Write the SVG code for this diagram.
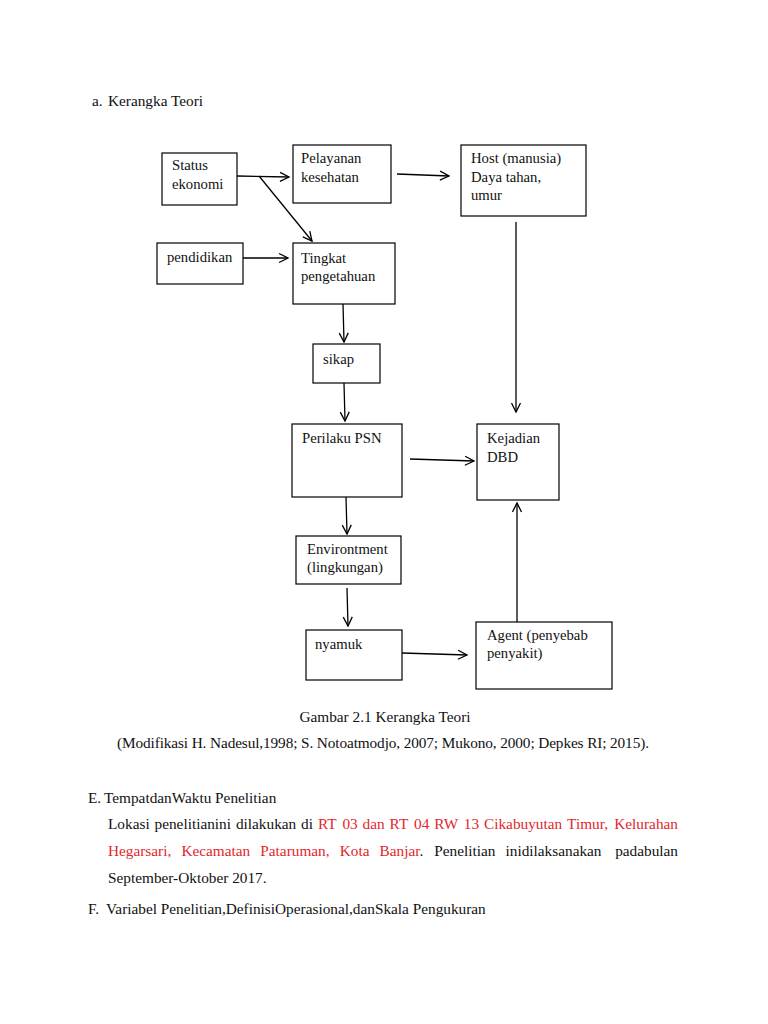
<svg xmlns="http://www.w3.org/2000/svg" width="768" height="1024" viewBox="0 0 768 1024">
<defs>
<marker id="arr" markerUnits="userSpaceOnUse" markerWidth="12" markerHeight="12" refX="10" refY="6" orient="auto">
<path d="M1,1.5 L10,6 L1,10.5" fill="none" stroke="#000" stroke-width="1.3"/>
</marker>
<style>
.box{fill:#fff;stroke:#000;stroke-width:1.2}
.t{font-family:"Liberation Serif","Times New Roman",serif;font-size:14.7px;fill:#111}
.p{font-family:"Liberation Serif","Times New Roman",serif;font-size:15.3px;fill:#111}
.r{fill:#e3262c}
.c{fill:none;stroke:#000;stroke-width:1.3;marker-end:url(#arr)}
</style>
</defs>
<rect width="768" height="1024" fill="#fff"/>
<text class="p" x="92" y="106">a.</text>
<text class="p" x="108" y="106">Kerangka Teori</text>

<g id="connectors">
<line class="c" x1="237" y1="176" x2="289" y2="177"/>
<line class="c" x1="259" y1="176" x2="312" y2="241"/>
<line class="c" x1="397" y1="174" x2="449" y2="176"/>
<line class="c" x1="243" y1="258" x2="288" y2="258"/>
<line class="c" x1="516" y1="222" x2="516" y2="412"/>
<line class="c" x1="343" y1="304" x2="344" y2="342"/>
<line class="c" x1="344" y1="383" x2="345" y2="421"/>
<line class="c" x1="410" y1="459" x2="474" y2="461"/>
<line class="c" x1="346" y1="497" x2="347" y2="534"/>
<line class="c" x1="347" y1="588" x2="348" y2="626"/>
<line class="c" x1="402" y1="653" x2="467" y2="655"/>
<line class="c" x1="517" y1="622" x2="517" y2="503"/>
</g>

<g id="status"><rect class="box" x="162" y="153" width="75" height="52"/><text class="t" x="172" y="170">Status</text><text class="t" x="172" y="189">ekonomi</text></g>
<g id="pelayanan"><rect class="box" x="293" y="145" width="98" height="58"/><text class="t" x="301" y="163">Pelayanan</text><text class="t" x="301" y="182">kesehatan</text></g>
<g id="host"><rect class="box" x="461" y="145" width="125" height="71"/><text class="t" x="471" y="163">Host (manusia)</text><text class="t" x="471" y="182">Daya tahan,</text><text class="t" x="471" y="200">umur</text></g>
<g id="pendidikan"><rect class="box" x="157" y="243" width="86" height="41"/><text class="t" x="167" y="262">pendidikan</text></g>
<g id="tingkat"><rect class="box" x="293" y="243" width="102" height="61"/><text class="t" x="301" y="263">Tingkat</text><text class="t" x="301" y="281">pengetahuan</text></g>
<g id="sikap"><rect class="box" x="313" y="344" width="67" height="39"/><text class="t" x="323" y="364">sikap</text></g>
<g id="perilaku"><rect class="box" x="292" y="424" width="110" height="73"/><text class="t" x="302" y="443">Perilaku PSN</text></g>
<g id="kejadian"><rect class="box" x="477" y="424" width="82" height="76"/><text class="t" x="487" y="443">Kejadian</text><text class="t" x="487" y="462">DBD</text></g>
<g id="environment"><rect class="box" x="296" y="536" width="105" height="48"/><text class="t" x="307" y="554">Environtment</text><text class="t" x="307" y="572">(lingkungan)</text></g>
<g id="nyamuk"><rect class="box" x="306" y="630" width="96" height="50"/><text class="t" x="315" y="649">nyamuk</text></g>
<g id="agent"><rect class="box" x="476" y="622" width="136" height="67"/><text class="t" x="487" y="640">Agent (penyebab</text><text class="t" x="487" y="658">penyakit)</text></g>

<text class="p" x="385" y="722" text-anchor="middle">Gambar 2.1 Kerangka Teori</text>
<text class="p" x="117" y="748" textLength="532" lengthAdjust="spacing">(Modifikasi H. Nadesul,1998; S. Notoatmodjo, 2007; Mukono, 2000; Depkes RI; 2015).</text>

<text class="p" x="88" y="803">E.</text>
<text class="p" x="104" y="803">TempatdanWaktu Penelitian</text>

<g class="p">
<text x="108" y="829">Lokasi</text>
<text x="154.5" y="829">penelitianini</text>
<text x="235.9" y="829">dilakukan</text>
<text x="301.1" y="829">di</text>
<text class="r" x="317.9" y="829">RT</text>
<text class="r" x="342.4" y="829">03</text>
<text class="r" x="362.6" y="829">dan</text>
<text class="r" x="389.6" y="829">RT</text>
<text class="r" x="414.1" y="829">04</text>
<text class="r" x="434.3" y="829">RW</text>
<text class="r" x="463.8" y="829">13</text>
<text class="r" x="484" y="829">Cikabuyutan</text>
<text class="r" x="567.1" y="829">Timur,</text>
<text class="r" x="678" y="829" text-anchor="end">Kelurahan</text>

<text class="r" x="108" y="856">Hegarsari,</text>
<text class="r" x="181.4" y="856">Kecamatan</text>
<text class="r" x="260.3" y="856">Pataruman,</text>
<text class="r" x="339.7" y="856">Kota</text>
<text x="379.5" y="856"><tspan class="r">Banjar</tspan>.</text>
<text x="434.2" y="856">Penelitian</text>
<text x="505.5" y="856">inidilaksanakan</text>
<text x="678" y="856" text-anchor="end">padabulan</text>

<text x="108" y="883">September-Oktober 2017.</text>
</g>

<text class="p" x="88" y="914">F.</text>
<text class="p" x="106" y="914">Variabel Penelitian,DefinisiOperasional,danSkala Pengukuran</text>
</svg>
